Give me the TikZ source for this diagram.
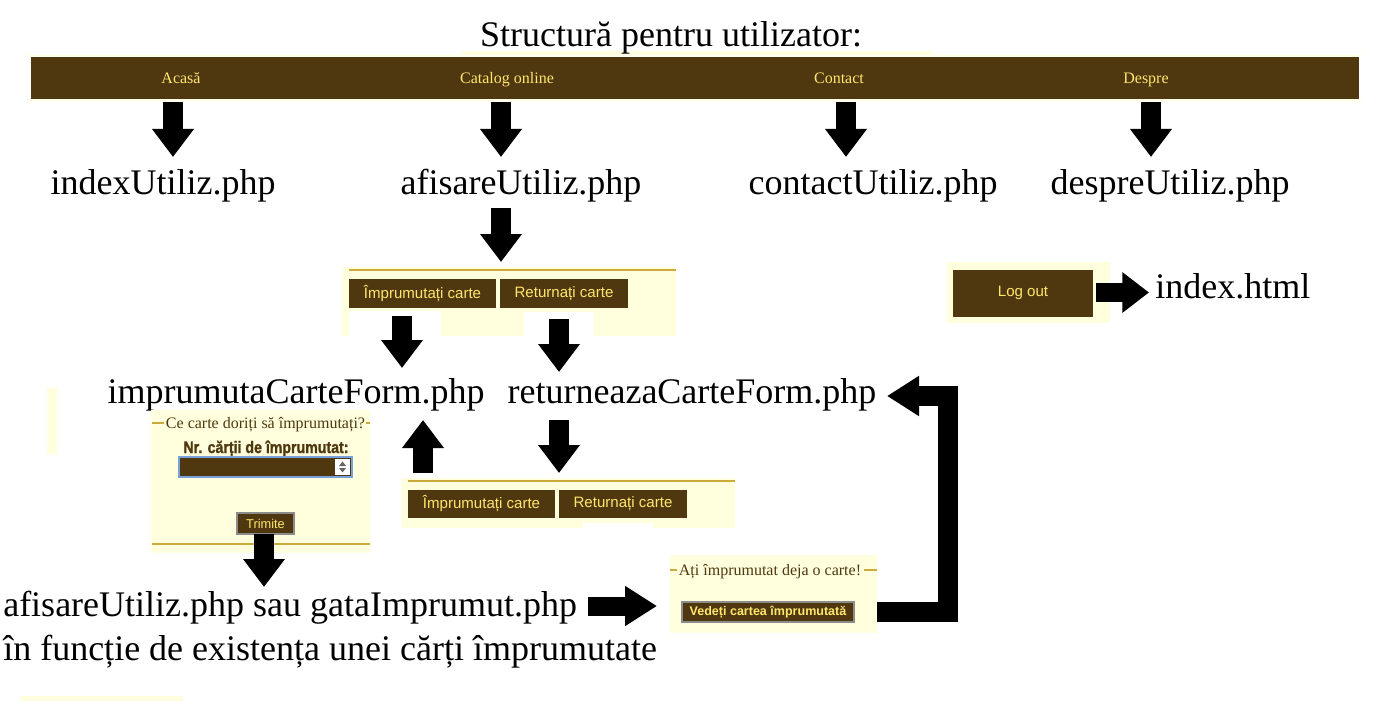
\documentclass[tikz,border=0pt]{standalone}
\usepackage{fontspec}
\setmainfont{Liberation Serif}
\newfontfamily\arial{Liberation Sans}
\newfontfamily\arialfb[FakeBold=1.5]{Liberation Sans Bold}
\usetikzlibrary{arrows.meta}
\definecolor{brn}{RGB}{79,56,16}
\definecolor{lyel}{RGB}{255,255,221}
\definecolor{gold}{RGB}{204,170,60}
\definecolor{btxt}{RGB}{255,230,110}
\definecolor{selb}{RGB}{120,160,220}
\definecolor{gbord}{RGB}{140,140,140}
\begin{document}
\begin{tikzpicture}[x=0.75pt,y=-0.75pt,
  big/.style={font=\fontsize{27}{30}\selectfont, inner sep=0pt, anchor=base},
  menu/.style={font=\fontsize{12}{14}\selectfont, text=btxt, inner sep=0pt, anchor=base},
  btn/.style={fill=brn, draw=none, inner sep=0pt, text=btxt, font=\arial\fontsize{11.3}{13}\selectfont},
  sbtn/.style={fill=brn, draw=gbord, line width=1.5pt, inner sep=0pt, text=btxt},
  legend/.style={font=\fontsize{12}{14}\selectfont, text=brn, inner sep=0pt, anchor=base},
  panel/.style={fill=lyel, draw=none},
  gline/.style={draw=gold, line width=1.5pt},
  blk/.style={line width=15pt, -{Triangle[width=30pt,length=21pt]}},
  blkh/.style={line width=14.25pt, -{Triangle[width=29.25pt,length=20pt]}}
]
\useasboundingbox (0,0) rectangle (1400,710);
\fill[white] (0,0) rectangle (1400,710);

% title
\fill[lyel] (462,51) rectangle (932,54);
\node[big] (title) at (671,47) {Structură pentru utilizator:};

% menu bar
\fill[lyel!60] (28,54) rectangle (1362,57);
\fill[lyel!60] (28,99) rectangle (1362,102);
\fill[brn] (31,57) rectangle (1359,99);
\node[menu] (m1) at (181,84) {Acasă};
\node[menu] (m2) at (507,84) {Catalog online};
\node[menu] (m3) at (839,84) {Contact};
\node[menu] (m4) at (1146,84) {Despre};

% row of pages
\node[big] (p1) at (163,194) {indexUtiliz.php};
\node[big] (p2) at (521,194) {afisareUtiliz.php};
\node[big] (p3) at (873,194) {contactUtiliz.php};
\node[big] (p4) at (1170,194) {despreUtiliz.php};

\coordinate (a1s) at (173,102); \coordinate (a1e) at (173,157);
\coordinate (a2s) at (501,102); \coordinate (a2e) at (501,157);
\coordinate (a3s) at (846,102); \coordinate (a3e) at (846,157);
\coordinate (a4s) at (1151,102); \coordinate (a4e) at (1151,157);
\draw[blk] (a1s) -- (a1e);
\draw[blk] (a2s) -- (a2e);
\draw[blk] (a3s) -- (a3e);
\draw[blk] (a4s) -- (a4e);

% panel 1
\coordinate (a5s) at (501,208); \coordinate (a5e) at (501,262);
\draw[blk] (a5s) -- (a5e);
\path[panel] (342,267) rectangle (676,336);
\draw[gline] (349,270) -- (676,270);
\fill[white] (349,311) rectangle (441,336);
\fill[white] (524,312) rectangle (594,336);
\node[btn, minimum width=110.25pt, minimum height=21.75pt] (b1) at (422.5,293.5) {Împrumutați carte};
\node[btn, minimum width=96pt, minimum height=21.75pt] (b2) at (564,293.5) {Returnați carte};

% log out
\path[panel] (947,262) rectangle (1110,323);
\node[btn, minimum width=105pt, minimum height=35.25pt] (lo) at (1023,293) {Log out};
\node[big, anchor=base west] (ih) at (1155,298) {index.html};
\coordinate (a12s) at (1096,292.5); \coordinate (a12e) at (1149,292.5);
\draw[blkh] (a12s) -- (a12e);

% arrows from panel 1 buttons
\coordinate (a6s) at (402,316); \coordinate (a6e) at (402,368);
\coordinate (a7s) at (559,319); \coordinate (a7e) at (559,372);
\draw[blk] (a6s) -- (a6e);
\draw[blk] (a7s) -- (a7e);

% form pages
\fill[lyel] (47,388) rectangle (57,454);
\node[big] (f1) at (296,403) {imprumutaCarteForm.php};
\node[big] (f2) at (692,403) {returneazaCarteForm.php};

% form panel 1
\path[panel] (151,410) rectangle (370,553);
\draw[gline] (152,423) -- (164,423);
\draw[gline] (366,423) -- (370,423);
\draw[gline] (152,544) -- (370,544);
\node[legend] (lg1) at (265.5,428) {Ce carte doriți să împrumutați?};
\node[inner sep=0pt, anchor=base, text=brn] (nr) at (266,453)
  {\scalebox{0.85}[1]{\arialfb\fontsize{12.5}{14}\selectfont Nr. cărții de împrumutat:}};
\node[fill=brn, draw=selb, line width=1.2pt, inner sep=0pt, minimum width=129.75pt, minimum height=15pt] (sel) at (265.5,467) {};
\fill[white] (335,459) rectangle (350,475);
\fill[black!60] (342.5,461.5) -- (339,466) -- (346,466) -- cycle;
\fill[black!60] (339,468) -- (346,468) -- (342.5,472.5) -- cycle;
\node[sbtn, minimum width=42.75pt, minimum height=15.75pt, font=\arial\fontsize{9.6}{11}\selectfont] (tr) at (265.5,523.5) {Trimite};
\coordinate (a10s) at (264,534); \coordinate (a10e) at (264,587);
\draw[blk] (a10s) -- (a10e);

% panel 3
\coordinate (a8s) at (423,473); \coordinate (a8e) at (423,420);
\coordinate (a9s) at (559,420); \coordinate (a9e) at (559,473);
\draw[blk] (a8s) -- (a8e);
\draw[blk] (a9s) -- (a9e);
\path[panel] (402,478) rectangle (735,528);
\draw[gline] (408,481) -- (735,481);
\fill[white] (583,523) rectangle (653,530);
\node[btn, minimum width=110.25pt, minimum height=21pt] (c1) at (481.5,504) {Împrumutați carte};
\node[btn, minimum width=96pt, minimum height=21pt] (c2) at (623,504) {Returnați carte};

% result text
\node[big, anchor=base west] (r1) at (3,616) {afisareUtiliz.php sau gataImprumut.php};
\node[big, anchor=base west] (r2) at (3,660) {în funcție de existența unei cărți împrumutate};
\fill[lyel] (20,696) rectangle (183,701);
\coordinate (a11s) at (588,606); \coordinate (a11e) at (657,606);
\draw[line width=14.25pt, -{Triangle[width=28.5pt,length=24pt]}] (a11s) -- (a11e);

% panel 2
\path[panel] (670,555) rectangle (877,633);
\draw[gline] (670,570) -- (677,570);
\draw[gline] (864,570) -- (877,570);
\node[legend] (lg2) at (770,575) {Ați împrumutat deja o carte!};
\node[sbtn, minimum width=129pt, minimum height=15pt, font=\arial\bfseries\fontsize{9.4}{11}\selectfont] (vd) at (768,612) {Vedeți cartea împrumutată};

% feedback arrow
\coordinate (fb0) at (877,612);
\coordinate (fb1) at (948,612);
\coordinate (fb2) at (948,396);
\coordinate (fb3) at (887,396);
\draw[line width=15pt, line join=miter, -{Triangle[width=28.5pt,length=24pt]}] (fb0) -- (fb1) -- (fb2) -- (fb3);
\end{tikzpicture}
\end{document}
